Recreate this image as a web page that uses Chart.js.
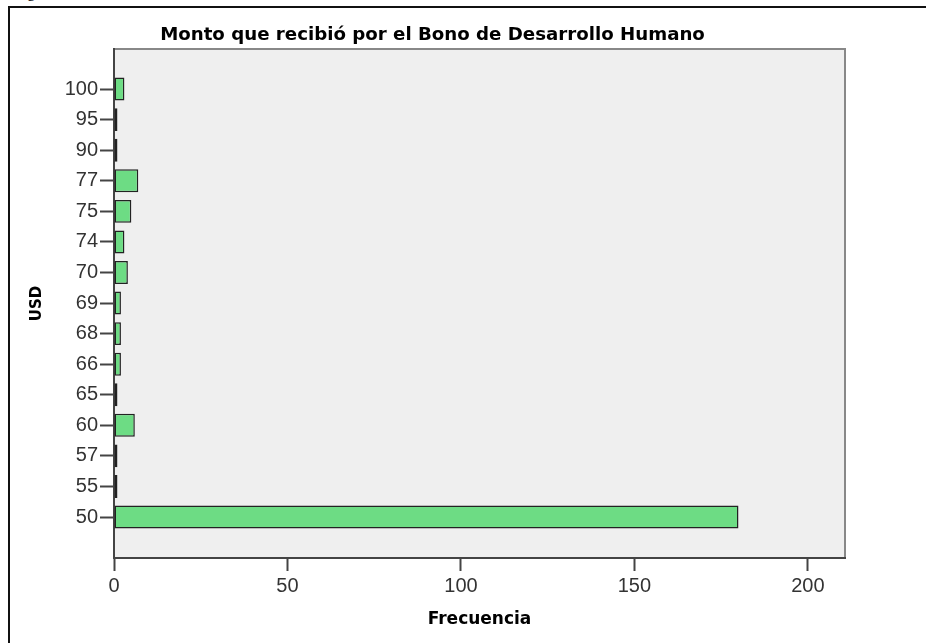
<!DOCTYPE html>
<html lang="es">
<head>
<meta charset="utf-8">
<title>Monto que recibió por el Bono de Desarrollo Humano</title>
<script src="https://cdn.jsdelivr.net/npm/chart.js@4/dist/chart.umd.min.js"></script>
<style>
  html, body { margin: 0; padding: 0; background: #fff; overflow: hidden; }
  #page { position: relative; width: 926px; height: 643px; }
  #caption { position: absolute; left: 14px; top: -16px; font: 16px/16px "Liberation Serif", serif; color: #000; }
  #frame { position: absolute; left: 8px; top: 6px; width: 930px; height: 650px; border-left: 2px solid #111; border-top: 2px solid #111; }
  #chart { position: absolute; left: 0; top: 0; }
</style>
</head>
<body>
<div id="page">
  <div id="caption">Figura</div>
  <div id="frame"></div>
  <canvas id="chart" width="926" height="643"></canvas>
</div>
<script>
// data (top to bottom)
const usdLabels = ['100', '95', '90', '77', '75', '74', '70', '69', '68', '66', '65', '60', '57', '55', '50'];
const frecuencia = [3, 1, 1, 7, 5, 3, 4, 2, 2, 2, 1, 6, 1, 1, 180];
const xTicks = [0, 50, 100, 150, 200];

const tickFont = { family: '"Liberation Sans", Arial, sans-serif', size: 20 };
const boldFont = size => ({ family: '"DejaVu Sans", sans-serif', size, weight: 'bold' });

// grey plot area with lighter top/right edges
const plotBg = {
  id: 'plotBg',
  beforeDraw(chart) {
    const { ctx, chartArea: a } = chart;
    ctx.save();
    ctx.fillStyle = '#efefef';
    ctx.fillRect(a.left, a.top, a.right - a.left, a.bottom - a.top);
    ctx.strokeStyle = '#888';
    ctx.lineWidth = 2;
    ctx.beginPath();
    ctx.moveTo(a.left, a.top);
    ctx.lineTo(a.right, a.top);
    ctx.lineTo(a.right, a.bottom);
    ctx.stroke();
    ctx.restore();
  }
};

new Chart(document.getElementById('chart'), {
  type: 'bar',
  data: {
    datasets: [{
      data: frecuencia.map((v, i) => ({ x: v, y: i })),
      backgroundColor: '#6ddc84',
      borderColor: '#222',
      borderWidth: 1.5,
      borderSkipped: false,
      categoryPercentage: 1,
      barPercentage: 0.75
    }]
  },
  options: {
    indexAxis: 'y',
    responsive: false,
    animation: false,
    devicePixelRatio: 1,
    layout: { padding: { left: 20, top: 24, right: 81, bottom: 0 } },
    plugins: {
      legend: { display: false },
      tooltip: { enabled: false },
      title: {
        display: true,
        text: 'Monto que recibió por el Bono de Desarrollo Humano',
        color: '#000',
        font: boldFont(18.2),
        padding: { top: 0, bottom: 3.2 }
      }
    },
    scales: {
      y: {
        type: 'linear',
        reverse: true,
        offset: false,
        min: -1.31,
        max: 15.34,
        afterFit: s => { s.width = 94; },
        afterBuildTicks: s => { s.ticks = usdLabels.map((_, i) => ({ value: i })); },
        ticks: { callback: v => usdLabels[v], font: tickFont, color: '#333', padding: 2, autoSkip: false },
        grid: { offset: false, drawOnChartArea: false, tickLength: 14, tickWidth: 2, tickColor: '#444' },
        border: { color: '#444', width: 2 },
        title: { display: true, text: 'USD', color: '#000', font: boldFont(15), padding: { top: 8.5, bottom: 0 } }
      },
      x: {
        type: 'linear',
        min: 0,
        max: 210.7,
        afterFit: s => { s.height = 85; },
        afterBuildTicks: s => { s.ticks = xTicks.map(v => ({ value: v })); },
        ticks: { font: tickFont, color: '#333', padding: 3, maxRotation: 0 },
        grid: { drawOnChartArea: false, tickLength: 13, tickWidth: 2, tickColor: '#444' },
        border: { color: '#444', width: 2 },
        title: { display: true, text: 'Frecuencia', color: '#000', font: boldFont(17), padding: { top: 0, bottom: 13.3 } }
      }
    }
  },
  plugins: [plotBg]
});
</script>
</body>
</html>
